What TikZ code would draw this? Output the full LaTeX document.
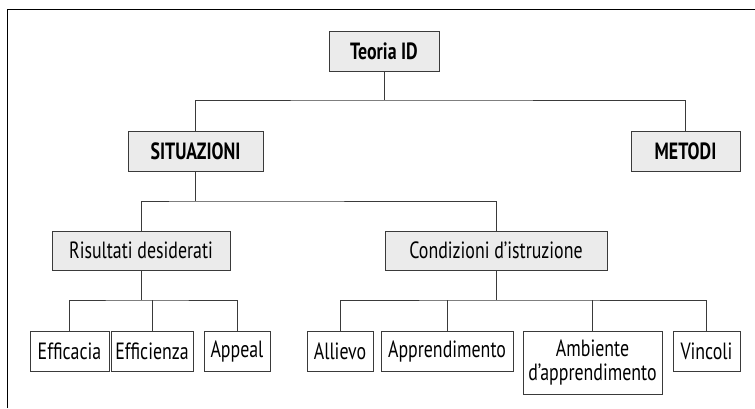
\documentclass[tikz,border=0pt]{standalone}
\usepackage{fontspec}
\setmainfont[FakeStretch=0.76]{PT Sans}
\usetikzlibrary{positioning}
\definecolor{boxgray}{HTML}{EBEBEB}
\definecolor{linegray}{HTML}{3A3A3A}
\tikzset{
  topbox/.style={rectangle, draw=linegray, fill=boxgray, inner sep=0pt, minimum height=40pt, font=\fontsize{23.5}{23.5}\selectfont\bfseries},
  midbox/.style={rectangle, draw=linegray, fill=boxgray, inner sep=0pt, minimum height=39pt, font=\fontsize{23.5}{23.5}\selectfont},
  leafbox/.style={rectangle, draw=linegray, fill=white, inner sep=0pt, minimum height=40pt, anchor=north, align=center, font=\fontsize{23.5}{23.5}\selectfont},
  tree/.style={draw=linegray, line width=1pt}
}
\begin{document}
\begin{tikzpicture}[x=1pt, y=-1pt]
	\useasboundingbox (0,0) rectangle (755,408);
	\draw[line width=1pt] (7,408) -- (7,9) -- (755,9);
	
	\node[topbox, minimum width=110pt] (teoria) at (384,51.5) {Teoria ID};
	\node[topbox, minimum width=135pt] (situazioni) at (195.5,151) {SITUAZIONI};
	\node[topbox, minimum width=109pt] (metodi) at (685.5,151) {METODI};
	
	\node[midbox, minimum width=178pt] (risultati) at (141,250.5) {Risultati desiderati};
	\node[midbox, minimum width=222pt] (condizioni) at (496,250.5) {Condizioni d’istruzione};
	
	\node[leafbox, minimum width=79pt] (efficacia) at (69.5,331) {Efficacia};
	\node[leafbox, minimum width=82pt] (efficienza) at (152,331) {Efficienza};
	\node[leafbox, minimum width=66pt] (appeal) at (237,331) {Appeal};
	
	\node[leafbox, minimum width=66pt] (allievo) at (340,331) {Allievo};
	\node[leafbox, minimum width=132pt] (apprendimento) at (447,331) {Apprendimento};
	\node[leafbox, minimum width=139pt, minimum height=63pt] (ambiente) at (592.5,331) {Ambiente\\d’apprendimento};
	\node[leafbox, minimum width=67pt] (vincoli) at (706.5,331) {Vincoli};
	
	\coordinate (bus1) at (384,100);
	\coordinate (bus2) at (195.5,201);
	\coordinate (bus3) at (141,300);
	\coordinate (bus4) at (496,300);
	
	\draw[tree] (teoria.south) -- (bus1);
	\draw[tree] (situazioni.north) |- (bus1) -| (metodi.north);
	
	\draw[tree] (situazioni.south) -- (bus2);
	\draw[tree] (risultati.north) |- (bus2) -| (condizioni.north);
	
	\draw[tree] (risultati.south) -- (bus3);
	\draw[tree] (efficacia.north) |- (bus3) -| (appeal.north);
	\draw[tree] (efficienza.north) -- (efficienza.north |- bus3);
	
	\draw[tree] (condizioni.south) -- (bus4);
	\draw[tree] (allievo.north) |- (bus4) -| (vincoli.north);
	\draw[tree] (apprendimento.north) -- (apprendimento.north |- bus4);
	\draw[tree] (ambiente.north) -- (ambiente.north |- bus4);
\end{tikzpicture}
\end{document}
